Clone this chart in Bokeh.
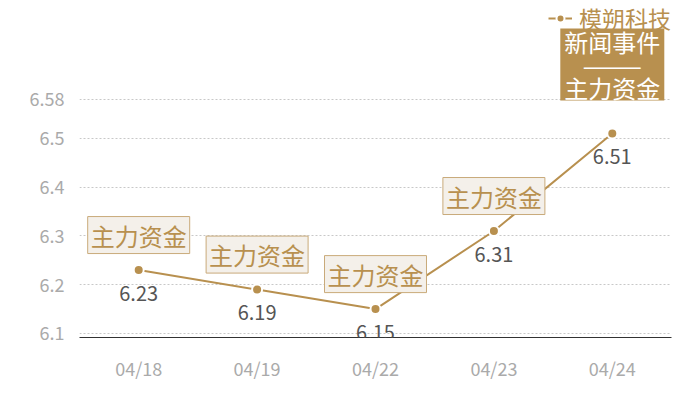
from bokeh.plotting import figure
from bokeh.models import (ColumnDataSource, FixedTicker, LabelSet, Label,
                          Legend, LegendItem, Range1d)
from bokeh.core.properties import value
from bokeh.embed import file_html
from bokeh.resources import INLINE

dates = ["04/18", "04/19", "04/22", "04/23", "04/24"]
prices = [6.23, 6.19, 6.15, 6.31, 6.51]
events = ["主力资金", "主力资金", "主力资金", "主力资金", "新闻事件\n———\n主力资金"]
highlight = [False, False, False, False, True]
y_ticks = [6.1, 6.2, 6.3, 6.4, 6.5, 6.58]
series_name = "模朔科技"

BROWN = "#b8904f"
FONT = "Noto Sans CJK SC"

xs = list(range(len(dates)))
src = ColumnDataSource(dict(x=xs, y=prices, lab=[f"{v:.2f}" for v in prices]))

p = figure(width=700, height=400, output_backend="svg", toolbar_location=None,
           x_range=Range1d(-0.5, len(dates) - 0.5),
           y_range=Range1d(6.0918, 6.7824),
           min_border_left=79, min_border_right=29, min_border_bottom=63,
           min_border_top=0)
p.outline_line_color = None
p.background_fill_color = "white"

p.xaxis.ticker = FixedTicker(ticks=xs)
p.xaxis.major_label_overrides = {i: d for i, d in zip(xs, dates)}
p.xaxis.major_tick_line_color = None
p.xaxis.minor_tick_line_color = None
p.xaxis.axis_line_color = "#333333"
p.xaxis.major_label_text_color = "#aaaaaa"
p.xaxis.major_label_text_font = FONT
p.xaxis.major_label_text_font_size = "18px"
p.xaxis.major_label_standoff = 11

p.yaxis.ticker = FixedTicker(ticks=y_ticks)
p.yaxis.major_label_overrides = {t: f"{t:g}" for t in y_ticks}
p.yaxis.major_tick_line_color = None
p.yaxis.minor_tick_line_color = None
p.yaxis.axis_line_color = None
p.yaxis.major_label_text_color = "#aaaaaa"
p.yaxis.major_label_text_font = FONT
p.yaxis.major_label_text_font_size = "18px"
p.yaxis.major_label_standoff = 9

p.xgrid.grid_line_color = None
p.ygrid.grid_line_color = "#c8c8c8"
p.ygrid.grid_line_dash = "2 2"
p.ygrid.ticker = FixedTicker(ticks=y_ticks)

ln = p.line("x", "y", source=src, line_color=BROWN, line_width=2)
sc = p.scatter("x", "y", source=src, size=10, fill_color=BROWN,
               line_color="white", line_width=2)

labels = LabelSet(x="x", y="y", text="lab", source=src, y_offset=-23,
                  text_align="center", text_baseline="middle",
                  text_color="#555555", text_font=value(FONT),
                  text_font_size=value("20px"))
p.add_layout(labels)

LINE_GAP = 23
for xi, yi, ev, hl in zip(xs, prices, events, highlight):
    lines = ev.split("\n")
    n = len(lines)
    if n == 1:
        p.add_layout(Label(x=xi, y=yi, text=ev, text_align="center",
                           text_baseline="middle", y_offset=35,
                           text_font=FONT, text_font_size="24px",
                           text_color=BROWN, background_fill_color="#f4f0ea",
                           border_line_color="#c9aa7a", border_line_width=1,
                           padding=dict(x=3, y=1)))
    else:
        center = 69
        # solid background panel sized by an ideographic-space spacer
        p.add_layout(Label(x=xi, y=yi, text="\u3000\u3000", text_align="center",
                           text_baseline="middle", y_offset=center,
                           text_font=FONT, text_font_size="50px",
                           text_color=BROWN,
                           background_fill_color=BROWN if hl else "#f4f0ea",
                           padding=dict(x=2, y=0)))
        for i, line in enumerate(lines):
            p.add_layout(Label(x=xi, y=yi, text=line, text_align="center",
                               text_baseline="middle",
                               y_offset=center + LINE_GAP * ((n - 1) / 2 - i),
                               text_font=FONT, text_font_size="24px",
                               text_color="white" if hl else BROWN))

legend = Legend(items=[LegendItem(label=series_name, renderers=[ln, sc])],
                location=(469, 302), margin=0, padding=0,
                background_fill_alpha=0, border_line_alpha=0,
                label_text_font=FONT, label_text_font_size="23px",
                label_text_color=BROWN, glyph_width=24, label_standoff=7)
p.add_layout(legend)

open("out.html", "w").write(file_html(p, INLINE))
